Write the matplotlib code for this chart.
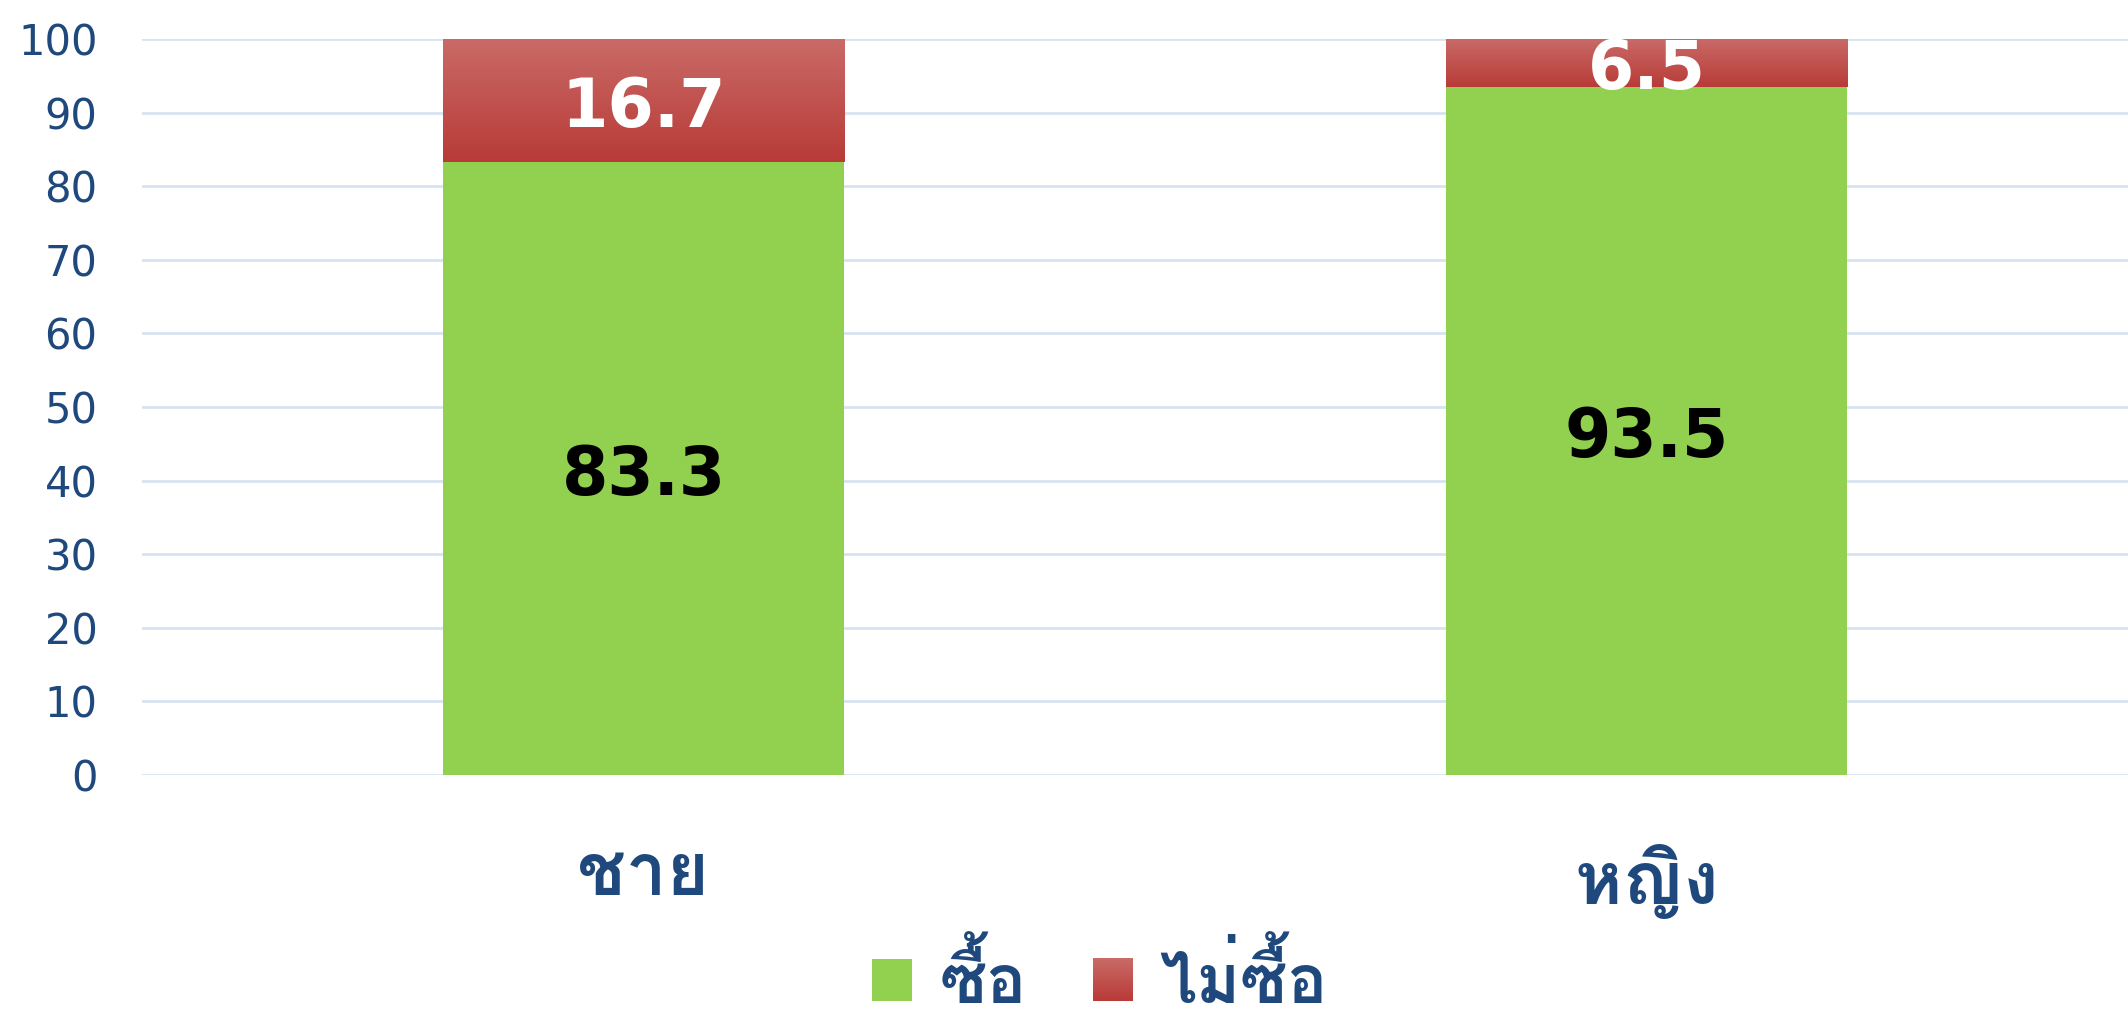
import numpy as np
import matplotlib
matplotlib.use('Agg')
import matplotlib.pyplot as plt
from matplotlib import font_manager
from matplotlib.ft2font import FT2Font
from matplotlib.patches import Rectangle
from matplotlib.legend_handler import HandlerBase

# ข้อมูล (ร้อยละ)
categories = ['ชาย', 'หญิง']
series_names = ['ซื้อ', 'ไม่ซื้อ']
buy = [83.3, 93.5]
not_buy = [16.7, 6.5]
yticks = list(range(0, 101, 10))

GREEN = '#92D050'
RED_TOP = np.array([0xC9, 0x6A, 0x66]) / 255
RED_BOTTOM = np.array([0xB8, 0x3B, 0x38]) / 255
NAVY = '#1F497D'
GRID = '#D8E3F1'


def thai_font():
    '''หาฟอนต์ที่มีอักษรไทย'''
    for f in font_manager.fontManager.ttflist:
        try:
            if 0x0E0B in FT2Font(f.fname).get_charmap():
                return f.name
        except Exception:
            pass
    return 'DejaVu Sans'


TH = thai_font()
plt.rcParams['font.family'] = [TH, 'DejaVu Sans']


def red_gradient(n=64):
    t = np.linspace(0, 1, n)[:, None]
    rgb = RED_TOP * (1 - t) + RED_BOTTOM * t
    return rgb[:, None, :]


class GradientHandler(HandlerBase):
    def create_artists(self, legend, orig_handle, xdescent, ydescent,
                       width, height, fontsize, trans):
        n = 30
        rgb = red_gradient(n)[:, 0, :]
        arts = []
        for i in range(n):
            y0 = -ydescent + height * (1 - (i + 1) / n)
            r = Rectangle((-xdescent, y0), width, height / n + 0.3,
                          facecolor=rgb[i], edgecolor='none', transform=trans)
            arts.append(r)
        return arts


fig = plt.figure(figsize=(21.28, 10.15), dpi=100)
ax = fig.add_axes([0.0667, 0.2365, 1 - 0.0667, 0.7251])

x = np.arange(len(categories))
w = 0.4
b1 = ax.bar(x, buy, w, color=GREEN, zorder=2)
b2 = ax.bar(x, not_buy, w, bottom=buy, color=RED_BOTTOM, zorder=2)

# ไล่สีแดงบนแท่ง "ไม่ซื้อ"
for p in b2.patches:
    x0, y0 = p.get_x(), p.get_y()
    im = ax.imshow(red_gradient(), aspect='auto', zorder=2.5,
                   extent=[x0, x0 + p.get_width(), y0, y0 + p.get_height()])
    im.set_clip_path(p)

for i in range(len(categories)):
    ax.text(x[i], buy[i] / 2 - 1, f'{buy[i]:.1f}', ha='center', va='center',
            fontsize=48, fontweight='bold', color='black',
            family='DejaVu Sans', zorder=3)
    ax.text(x[i], buy[i] + not_buy[i] / 2 - 1, f'{not_buy[i]:.1f}',
            ha='center', va='center', fontsize=48, fontweight='bold',
            color='white', family='DejaVu Sans', zorder=3)

ax.set_xlim(-0.5, 1.48)
ax.set_ylim(0, 100)
ax.set_yticks(yticks)
ax.set_yticklabels([str(v) for v in yticks], family='DejaVu Sans',
                   fontsize=30, color=NAVY)
ax.set_xticks(x)
ax.set_xticklabels(categories, fontsize=52, color=NAVY, fontweight='bold')
ax.tick_params(axis='y', length=0, pad=32)
ax.tick_params(axis='x', length=0, pad=50)
ax.grid(axis='y', color=GRID, linewidth=2, zorder=0)
ax.set_axisbelow(True)
for s in ax.spines.values():
    s.set_visible(False)

h_green = Rectangle((0, 0), 1, 1, facecolor=GREEN)
h_red = Rectangle((0, 0), 1, 1, facecolor=RED_BOTTOM)
leg = fig.legend([h_green, h_red], series_names, loc='lower center',
                 bbox_to_anchor=(0.517, -0.034), ncol=2, frameon=False,
                 handler_map={h_red: GradientHandler()}, borderpad=0,
                 prop={'family': [TH, 'DejaVu Sans'], 'size': 48, 'weight': 'bold'},
                 handlelength=0.6, handleheight=0.6, handletextpad=0.4,
                 columnspacing=1.0)
for t in leg.get_texts():
    t.set_color(NAVY)

fig.savefig('out.png', dpi=100)
